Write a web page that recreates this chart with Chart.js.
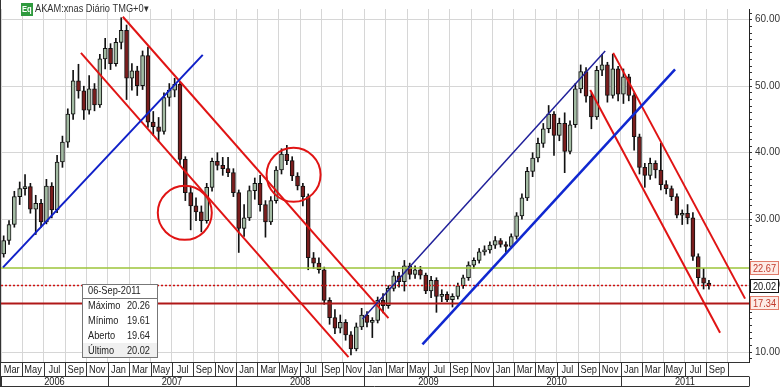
<!DOCTYPE html>
<html>
<head>
<meta charset="utf-8">
<script src="https://cdn.jsdelivr.net/npm/chart.js@4.4.0/dist/chart.umd.min.js"></script>
<style>
  html, body { margin: 0; padding: 0; background: #fff; }
  #wrap { width: 783px; height: 387px; }
</style>
</head>
<body>
<div id="wrap"><canvas id="chart" width="783" height="387"></canvas></div>
<script>
// AKAM half-month candles, Mar 2006 .. 6 Sep 2011 (x = months since 1 Mar 2006)
const opens = [24.8, 26.8, 29.2, 33.4, 34.6, 34.9, 31.5, 32.4, 29.6, 35,
  31.4, 38.6, 41.6, 45.8, 50.8, 49.3, 46.4, 49.6, 47.2, 54.1,
  55.7, 53.4, 56.6, 58.4, 51.2, 52.3, 50.1, 54.6, 44.6, 43.9,
  43.2, 48.3, 49.4, 50.3, 39, 34, 32, 31.1, 29.8, 34.8,
  38.7, 38.1, 37.6, 37, 34, 28.6, 30.2, 34.3, 35.4, 32.2,
  29.6, 32.8, 37.4, 39.8, 38.8, 36.5, 35, 33.4, 24.2, 23.4,
  22.4, 17.8, 15.2, 13.6, 14.5, 12.6, 10.5, 13.8, 15.6, 14.5,
  14.8, 17.8, 17, 19.6, 21.5, 20.6, 23, 21.7, 22.4, 21.6,
  19.2, 20.8, 18.4, 18.7, 17.9, 18.4, 20, 21.2, 23.1, 23.8,
  25.1, 25.4, 26.1, 26.8, 26.2, 25.9, 27.4, 30.5, 33.2, 37.2,
  39.2, 41.4, 43.6, 45.8, 42.6, 44.4, 40.2, 44.2, 49.6, 52.2,
  48.5, 45.4, 52.4, 53.2, 48.6, 52.6, 48.8, 51.4, 48.6, 42.4,
  37.8, 36.6, 38.4, 37.4, 35.2, 34.6, 33.4, 30.6, 30.9, 30.2,
  24.4, 21.2, 20.4];
const highs = [27.5, 29.8, 34.2, 35.6, 36.7, 35.4, 33.6, 33, 36, 35.5,
  39.6, 42.5, 46.6, 52.4, 53.3, 50, 51.6, 50.4, 54.8, 57.2,
  56.4, 57.2, 60.3, 59.2, 53.4, 53, 55.3, 55.9, 46.2, 45.3,
  49, 50.4, 51.2, 50.6, 39.4, 34.8, 33.2, 32, 35.4, 39.2,
  40, 39.3, 39.3, 37.6, 34.4, 32.2, 35, 36.2, 36.6, 32.8,
  33.4, 37.9, 40.6, 41.1, 39.4, 37, 35.4, 33.8, 25, 24.2,
  22.8, 18.2, 16.4, 15.6, 14.9, 13.1, 14.4, 16.6, 16.1, 15.2,
  18.3, 18.8, 20, 22.2, 22, 23.8, 23.4, 23, 22.9, 21.9,
  21.4, 21.2, 19.4, 19.1, 18.8, 20.4, 21.6, 23.6, 24.2, 25.6,
  26, 26.6, 27.4, 27.1, 26.6, 27.8, 31, 33.8, 37.8, 40,
  42.2, 44.4, 47.1, 46.2, 45.2, 46, 44.8, 50.4, 53.2, 52.8,
  49, 53, 54.8, 53.6, 54.8, 53, 52.6, 51.8, 49, 42.8,
  38.4, 39.2, 38.8, 41.4, 35.8, 35, 33.8, 31.4, 32.2, 31,
  24.8, 22.6, 20.8];
const lows = [24.3, 26.2, 28.8, 32.2, 33.6, 30.9, 27.7, 28.8, 29.3, 30.2,
  31, 37.8, 40.8, 45, 48.2, 45, 45.8, 46.3, 46.8, 52.6,
  52.5, 53, 55.6, 48, 49.4, 48.6, 49.5, 43.8, 42.6, 41.7,
  42.8, 47, 48.4, 38.2, 32.8, 28.4, 29.8, 28.1, 29.4, 34.2,
  37.4, 36.6, 36.4, 33.4, 25, 27.4, 29.8, 33, 31.2, 27.3,
  29.2, 32.4, 36.8, 38.2, 35.8, 34.4, 32, 22.4, 22.6, 21.9,
  17.2, 14.2, 12.8, 12.9, 11.8, 9.6, 10.2, 13.4, 13.8, 12.2,
  14.4, 15.9, 16.6, 19.2, 19.8, 19.2, 21, 21.1, 21, 18.8,
  18.2, 16, 17.6, 17.6, 16.8, 18, 19.6, 20.8, 22.6, 23.4,
  24.6, 24.9, 25.6, 25.8, 25, 25.6, 27, 30, 32.8, 36.4,
  38.6, 40.8, 43, 39.6, 41.8, 37, 39.8, 43.8, 49, 47.6,
  43.6, 45, 51.6, 47.6, 48.2, 47.8, 47.4, 47.8, 40.4, 36.8,
  34.8, 36, 36.2, 34.4, 33.8, 32.8, 30.2, 29.2, 29.3, 23.8,
  20.2, 19.5, 19.5];
const closes = [26.8, 29.2, 33.4, 34.6, 34.9, 31.5, 32.4, 29.6, 35, 31.4,
  38.6, 41.6, 45.8, 50.8, 49.3, 46.4, 49.6, 47.2, 54.1, 55.7,
  53.4, 56.6, 58.4, 51.2, 52.3, 50.1, 54.6, 44.6, 43.9, 43.2,
  48.3, 49.4, 50.3, 39, 34, 32, 31.1, 29.8, 34.8, 38.7,
  38.1, 37.6, 37, 34, 28.6, 30.2, 34.3, 35.4, 32.2, 29.6,
  32.8, 37.4, 39.8, 38.8, 36.5, 35, 33.4, 24.2, 23.4, 22.4,
  17.8, 15.2, 13.6, 14.5, 12.6, 10.5, 13.8, 15.6, 14.5, 14.8,
  17.8, 17, 19.6, 21.5, 20.6, 23, 21.7, 22.4, 21.6, 19.2,
  20.8, 18.4, 18.7, 17.9, 18.4, 20, 21.2, 23.1, 23.8, 25.1,
  25.4, 26.1, 26.8, 26.2, 25.9, 27.4, 30.5, 33.2, 37.2, 39.2,
  41.4, 43.6, 45.8, 42.6, 44.4, 40.2, 44.2, 49.6, 52.2, 48.5,
  45.4, 52.4, 53.2, 48.6, 52.6, 48.8, 51.4, 48.6, 42.4, 37.8,
  36.6, 38.4, 37.4, 35.2, 34.6, 33.4, 30.6, 30.9, 30.2, 24.4,
  21.2, 20.4, 20.02];

// trend lines drawn on the chart: [x1, y1, x2, y2] in months / price
const blueLines = [[0.19, 22.75, 18.88, 54.72], [33.83, 14.98, 56.54, 55.31], [39.44, 11.17, 63.08, 52.52]];
const redLines = [[7.48, 55.01, 32.52, 9.26], [11.40, 60.44, 36.26, 15.13], [55.14, 49.44, 67.29, 12.93], [57.29, 55.01, 69.63, 18.06]];

// circled areas (centre month, centre price)
const circleX = [17.2, 27.38];
const circleY = [30.96, 36.68];

// horizontal levels: resistance, last price, support
const levels = [22.67, 20.02, 17.34];

// last bar shown in the info box
const infoDate = '06-Sep-2011';
const infoLabels = ['Máximo', 'Mínimo', 'Aberto', 'Último'];
const infoValues = [20.26, 19.61, 19.64, 20.02];

// bottom axis
const monthNames = ['Jan', 'Feb', 'Mar', 'Apr', 'May', 'Jun', 'Jul', 'Aug', 'Sep', 'Oct', 'Nov', 'Dec'];
const years = ['2006', '2007', '2008', '2009', '2010', '2011'];
const yearStarts = [0, 10, 22, 34, 46, 58, 70];

const FONT = "'Liberation Sans', Arial, sans-serif";
const UP = '#a3bba3';
const DOWN = '#7a1d1d';

const xs = opens.map((_, i) => 0.25 + i * 0.5);

const wicks = xs.map((x, i) => ({ x: x, y: [lows[i], highs[i]] }));
const bodies = xs.map((x, i) => ({ x: x, y: [opens[i], closes[i]] }));

const seg = s => [{ x: s[0], y: s[1] }, { x: s[2], y: s[3] }];
const blueWidths = [2, 1.5, 2.5];
const blueColors = ['#1020c8', '#20209a', '#1028d0'];

const levelStyles = [
  { color: '#9cc43a', width: 1.5, dash: [], text: '#c0392b', box: '#e07b6a', fill: '#fdebe6' },
  { color: '#d01010', width: 1.5, dash: [2, 2], text: '#111', box: '#111', fill: '#fff' },
  { color: '#b01818', width: 2, dash: [], text: '#c0392b', box: '#e07b6a', fill: '#fdebe6' }
];

const datasets = [];
blueLines.forEach((s, i) => datasets.push({
  type: 'line', data: seg(s), borderColor: blueColors[i], borderWidth: blueWidths[i],
  pointRadius: 0, tension: 0, order: 0
}));
redLines.forEach(s => datasets.push({
  type: 'line', data: seg(s), borderColor: '#e01414', borderWidth: 2,
  pointRadius: 0, tension: 0, order: 0
}));
datasets.push({
  type: 'bubble',
  data: circleX.map((x, i) => ({ x: x, y: circleY[i], r: 27 })),
  backgroundColor: 'rgba(0,0,0,0)', borderColor: '#e01414', borderWidth: 2, order: 0
});
levels.forEach((v, i) => datasets.push({
  type: 'line', data: [{ x: 0, y: v }, { x: 70, y: v }],
  borderColor: levelStyles[i].color, borderWidth: levelStyles[i].width,
  borderDash: levelStyles[i].dash, pointRadius: 0, order: 1
}));
datasets.push({
  type: 'bar', data: bodies, grouped: false, barThickness: 4, order: 2,
  backgroundColor: ctx => closes[ctx.dataIndex] >= opens[ctx.dataIndex] ? UP : DOWN,
  borderColor: '#111', borderWidth: 1, borderSkipped: false
});
datasets.push({
  type: 'bar', data: wicks, grouped: false, barThickness: 1, order: 3,
  backgroundColor: '#111', borderWidth: 0
});

// the source app uses a narrow sans; squeeze canvas text a little
function narrow(ctx, text, x, y, align) {
  ctx.save();
  ctx.translate(x, y);
  ctx.scale(0.84, 1);
  ctx.textAlign = align;
  ctx.fillText(text, 0, 0);
  ctx.restore();
}

// month / year strip under the plot
const timeHeader = {
  id: 'timeHeader',
  afterDraw(chart) {
    const { ctx, chartArea: a, scales: { x } } = chart;
    const top = a.bottom + 0.5, mid = a.bottom + 14.5, bot = chart.height - 0.5;
    ctx.save();
    ctx.strokeStyle = '#333';
    ctx.lineWidth = 1;
    ctx.beginPath();
    ctx.moveTo(0, top); ctx.lineTo(a.right, top);
    ctx.moveTo(0, mid); ctx.lineTo(a.right, mid);
    ctx.moveTo(0, bot); ctx.lineTo(a.right, bot);
    ctx.moveTo(0.5, 0); ctx.lineTo(0.5, chart.height);
    for (let m = 2; m <= 68; m += 2) {
      const px = Math.round(x.getPixelForValue(m)) + 0.5;
      ctx.moveTo(px, top); ctx.lineTo(px, mid);
    }
    yearStarts.forEach(m => {
      const px = Math.round(x.getPixelForValue(m)) + 0.5;
      ctx.moveTo(px, mid); ctx.lineTo(px, bot);
    });
    ctx.stroke();
    ctx.fillStyle = '#222';
    ctx.font = '11px ' + FONT;
    ctx.textBaseline = 'middle';
    for (let m = 1; m < 68; m += 2) {
      narrow(ctx, monthNames[(m + 1) % 12], x.getPixelForValue(m), a.bottom + 8, 'center');
    }
    years.forEach((y, i) => {
      narrow(ctx, y, (x.getPixelForValue(yearStarts[i]) + x.getPixelForValue(yearStarts[i + 1])) / 2, a.bottom + 20, 'center');
    });
    ctx.restore();
  }
};

// boxed level values on the price axis
const levelTags = {
  id: 'levelTags',
  afterDraw(chart) {
    const { ctx, chartArea: a, scales: { y } } = chart;
    ctx.save();
    ctx.font = '11px ' + FONT;
    ctx.textBaseline = 'middle';
    levels.forEach((v, i) => {
      const st = levelStyles[i];
      const py = Math.round(y.getPixelForValue(v));
      ctx.fillStyle = st.fill;
      ctx.fillRect(a.right + 1, py - 7, 29, 14);
      ctx.strokeStyle = st.box;
      ctx.lineWidth = 1;
      ctx.strokeRect(a.right + 1.5, py - 6.5, 28, 13);
      ctx.fillStyle = st.text;
      narrow(ctx, v.toFixed(2), a.right + 15.5, py + 1, 'center');
    });
    ctx.restore();
  }
};

// title and info box
const overlays = {
  id: 'overlays',
  afterDraw(chart) {
    const ctx = chart.ctx;
    ctx.save();
    ctx.fillStyle = '#2f9a3e';
    ctx.fillRect(21, 3, 12, 13);
    ctx.fillStyle = '#fff';
    ctx.font = 'bold 9px ' + FONT;
    ctx.textBaseline = 'middle';
    narrow(ctx, 'Eq', 22, 10, 'left');
    ctx.fillStyle = '#333';
    ctx.font = '11px ' + FONT;
    narrow(ctx, 'AKAM:xnas Diário TMG+0▾', 35, 9, 'left');

    const bx = 82, by = 284, bw = 75, bh = 73;
    ctx.fillStyle = '#fff';
    ctx.fillRect(bx, by, bw, bh);
    ctx.fillStyle = '#f0f0f0';
    ctx.fillRect(bx, by + 59, bw, 14);
    ctx.strokeStyle = '#777';
    ctx.lineWidth = 1;
    ctx.strokeRect(bx + 0.5, by + 0.5, bw, bh);
    ctx.strokeRect(bx + 0.5, by + 0.5, bw, 14);
    ctx.fillStyle = '#222';
    ctx.font = '11px ' + FONT;
    narrow(ctx, infoDate, bx + 6, by + 7, 'left');
    infoLabels.forEach((lab, i) => {
      const ty = by + 22 + i * 15;
      narrow(ctx, lab, bx + 6, ty, 'left');
      narrow(ctx, infoValues[i].toFixed(2), bx + bw - 7, ty, 'right');
    });
    ctx.restore();
  }
};

new Chart(document.getElementById('chart'), {
  type: 'bar',
  data: { datasets: datasets },
  plugins: [timeHeader, levelTags, overlays],
  options: {
    responsive: false,
    animation: false,
    devicePixelRatio: 1,
    events: [],
    layout: { autoPadding: false, padding: { left: 1, top: 0, right: 0, bottom: 0 } },
    plugins: { legend: { display: false }, tooltip: { enabled: false } },
    scales: {
      x: {
        type: 'linear', min: 0, max: 70, offset: false,
        afterBuildTicks: s => { s.ticks = []; for (let m = 0; m <= 70; m += 2) s.ticks.push({ value: m }); },
        afterFit: s => { s.height = 25; },
        grid: { color: '#d6d6d6', drawTicks: false, offset: false },
        border: { display: false },
        ticks: { display: false }
      },
      y: {
        position: 'right', min: 8.53, max: 61.61,
        afterBuildTicks: s => { s.ticks = []; for (let v = 9; v <= 61; v++) s.ticks.push({ value: v }); },
        afterFit: s => { s.width = 34; },
        border: { color: '#222', width: 1 },
        grid: {
          color: c => (c.tick && c.tick.value % 10 === 0) ? '#d6d6d6' : 'rgba(0,0,0,0)',
          tickColor: '#333', tickLength: 3
        },
        ticks: {
          autoSkip: false, padding: 3, color: '#333',
          font: { family: FONT, size: 10 },
          callback: v => v % 10 === 0 ? v.toFixed(2) : ''
        }
      }
    }
  }
});
</script>
</body>
</html>
